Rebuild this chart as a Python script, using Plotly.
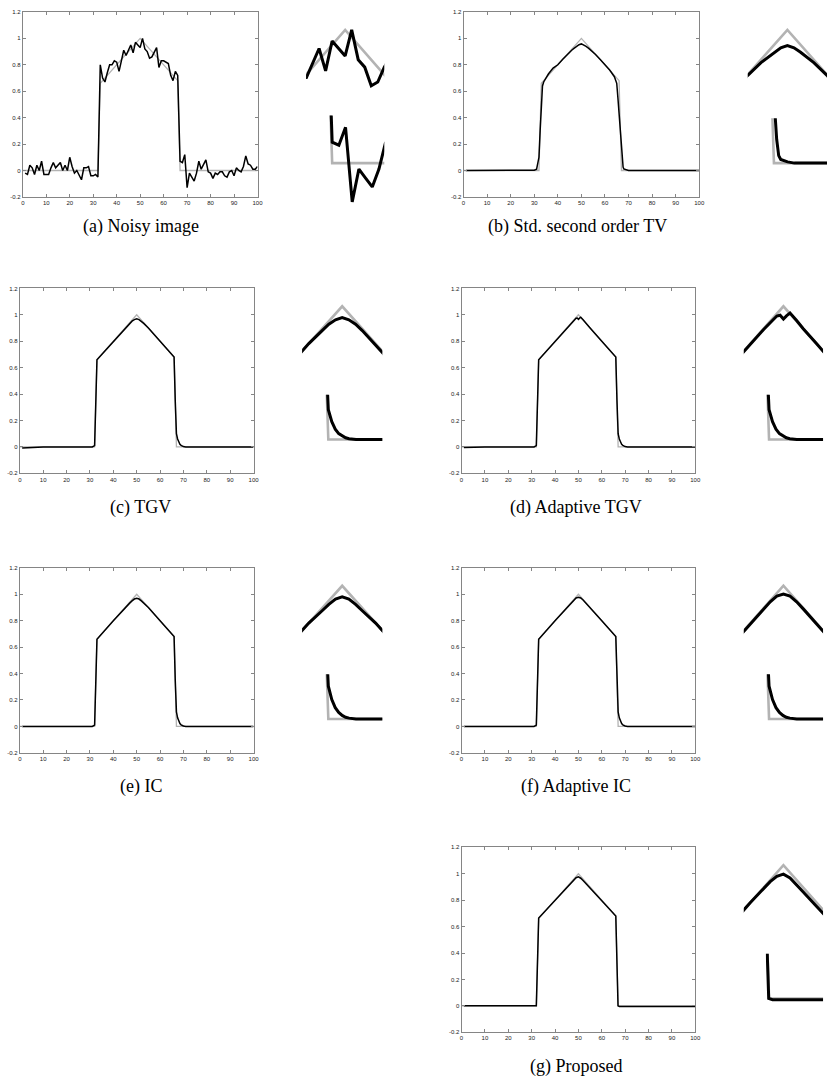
import plotly.graph_objects as go

W, H = 833, 1085

# ---------------- data ----------------
x_true = [0, 32, 33, 50, 66, 67, 100]
y_true = [0, 0, 0.66, 1.0, 0.68, 0, 0]

x_noisy = list(range(1, 101))
y_noisy = [-0.02, -0.03, 0.04, 0.02, -0.03, 0.04, 0.0, 0.07, -0.03, -0.03,
           -0.03, 0.02, 0.06, 0.02, 0.04, 0.06, 0.0, 0.04, 0.0, 0.10,
           0.03, -0.02, 0.0, -0.03, -0.07, 0.02, 0.02, 0.03, -0.04, -0.04,
           -0.03, -0.05, 0.80, 0.70, 0.67, 0.74, 0.80, 0.80, 0.83, 0.82,
           0.75, 0.83, 0.91, 0.87, 0.91, 0.95, 0.89, 0.97, 0.95, 0.93,
           1.00, 0.92, 0.90, 0.85, 0.86, 0.90, 0.93, 0.78, 0.83, 0.83,
           0.82, 0.81, 0.72, 0.68, 0.75, 0.72, 0.07, 0.06, 0.12, -0.13,
           -0.02, -0.05, -0.08, -0.02, 0.07, 0.01, 0.04, 0.08, -0.01, -0.02,
           -0.06, -0.02, -0.03, -0.01, -0.01, -0.04, -0.05, -0.01, 0.0, -0.04,
           0.02, 0.0, -0.01, 0.03, 0.11, 0.05, 0.04, 0.01, 0.01, 0.03]

x_tv2 = [1, 29, 30, 31, 32, 32.5, 33, 33.5, 34, 36, 38, 40, 42, 44, 46, 47, 48, 49, 50,
         51, 52, 53, 54, 56, 58, 60, 62, 64, 65, 65.5, 66, 66.5, 67, 67.4, 67.7, 68, 69, 70, 100]
y_tv2 = [0, 0, 0.002, 0.01, 0.1, 0.3, 0.55, 0.64, 0.67, 0.73, 0.775, 0.80, 0.84, 0.878, 0.912, 0.926, 0.94, 0.952, 0.958,
         0.952, 0.94, 0.926, 0.912, 0.878, 0.84, 0.80, 0.76, 0.71, 0.66, 0.55, 0.42, 0.33, 0.22, 0.08, 0.025, 0.012, 0.004, 0, 0]

x_tgv = [1, 5, 10, 31, 32, 33, 40, 45, 47, 48, 49, 50, 51, 52, 53, 55, 60, 66,
         66.5, 67, 67.5, 68, 68.5, 69, 69.5, 70, 71, 100]
y_tgv = [-0.008, -0.005, 0, 0, 0.01, 0.66, 0.80, 0.90, 0.935, 0.952, 0.964, 0.970, 0.964, 0.952, 0.935, 0.90, 0.80, 0.68,
         0.35, 0.10, 0.06, 0.035, 0.02, 0.012, 0.006, 0.003, 0, 0]

x_atgv = [1, 10, 31, 32, 33, 40, 45, 47, 48, 49, 49.5, 50, 50.5, 51, 52, 53, 55, 60, 66,
          66.5, 67, 67.5, 68, 68.5, 69, 69.5, 70, 71, 100]
y_atgv = [-0.005, 0, 0, 0.01, 0.66, 0.80, 0.90, 0.938, 0.956, 0.974, 0.976, 0.966, 0.975, 0.982, 0.962, 0.94, 0.90, 0.80, 0.68,
          0.35, 0.10, 0.06, 0.035, 0.02, 0.012, 0.006, 0.003, 0, 0]

x_ic = [1, 10, 31, 32, 33, 40, 45, 47, 48, 49, 50, 51, 52, 53, 55, 60, 66,
        66.5, 67, 67.5, 68, 68.5, 69, 69.5, 70, 71, 100]
y_ic = [0, 0, 0, 0.01, 0.66, 0.80, 0.90, 0.933, 0.950, 0.964, 0.970, 0.964, 0.950, 0.933, 0.90, 0.80, 0.68,
        0.35, 0.11, 0.065, 0.038, 0.022, 0.012, 0.006, 0.003, 0, 0]

x_aic = [1, 10, 31, 32, 33, 40, 45, 47, 48, 49, 50, 51, 52, 53, 55, 60, 66,
         66.5, 67, 67.5, 68, 68.5, 69, 69.5, 70, 71, 100]
y_aic = [0, 0, 0, 0.01, 0.66, 0.80, 0.90, 0.938, 0.957, 0.972, 0.978, 0.972, 0.957, 0.938, 0.90, 0.80, 0.68,
         0.35, 0.11, 0.065, 0.038, 0.022, 0.012, 0.006, 0.003, 0, 0]

x_prop = [1, 10, 31, 32, 33, 40, 45, 47, 48, 49, 50, 51, 52, 53, 55, 60, 66, 66.95, 67.5, 100]
y_prop = [0, 0, 0, 0, 0.665, 0.80, 0.90, 0.937, 0.956, 0.970, 0.976, 0.966, 0.948, 0.928, 0.89, 0.795, 0.68, 0.0, -0.004, -0.004]

captions = ["(a) Noisy image", "(b) Std. second order TV", "(c) TGV", "(d) Adaptive TGV",
            "(e) IC", "(f) Adaptive IC", "(g) Proposed"]

x_tickvals = [0, 10, 20, 30, 40, 50, 60, 70, 80, 90, 100]
x_ticktext = ["0", "10", "20", "30", "40", "50", "60", "70", "80", "90", "100"]
y_tickvals = [-0.2, 0, 0.2, 0.4, 0.6, 0.8, 1.0, 1.2]
y_ticktext = ["-0.2", "0", "0.2", "0.4", "0.6", "0.8", "1", "1.2"]

series = [(x_noisy, y_noisy), (x_tv2, y_tv2), (x_tgv, y_tgv), (x_atgv, y_atgv),
          (x_ic, y_ic), (x_aic, y_aic), (x_prop, y_prop)]

# ---------------- layout (pixel boxes) ----------------
panels = [
    dict(main=(21, 258), T=9, top=(307, 386), bot=(330, 386), cap=(140, 225)),
    dict(main=(466, 704), T=9, top=(753, 833), bot=(776, 833), cap=(581, 225)),
    dict(main=(18, 254), T=287, top=(303, 384), bot=(326, 384), cap=(140, 507)),
    dict(main=(464, 700), T=287, top=(749, 829), bot=(771, 829), cap=(580, 507)),
    dict(main=(18, 254), T=568, top=(303, 384), bot=(326, 384), cap=(140, 788)),
    dict(main=(464, 700), T=568, top=(749, 829), bot=(771, 829), cap=(580, 788)),
    dict(main=(464, 700), T=849, top=(749, 829), bot=(771, 829), cap=(580, 1069)),
]

GRAY = "#b3b3b3"
BLACK = "#000000"
AXC = "#858585"


def xd(a, b):
    return [a / W, b / W]


def yd(top, bottom):
    return [1 - bottom / H, 1 - top / H]


fig = go.Figure()
layout = dict(width=W, height=H, autosize=False, margin=dict(l=0, r=0, t=0, b=0),
              paper_bgcolor="white", plot_bgcolor="white", showlegend=False)
annotations = []

for i, p in enumerate(panels):
    xs, ys = series[i]
    T = p["T"]
    noisy = (i == 0)
    n0 = 3 * i + 1
    for k in range(3):
        n = n0 + k
        xa = "x" if n == 1 else f"x{n}"
        ya = "y" if n == 1 else f"y{n}"
        xkey = "xaxis" if n == 1 else f"xaxis{n}"
        ykey = "yaxis" if n == 1 else f"yaxis{n}"
        if k == 0:
            layout[xkey] = dict(domain=xd(*p["main"]), range=[0, 100], anchor=ya,
                                showline=True, mirror="ticks", linecolor=AXC, linewidth=1,
                                ticks="inside", ticklen=3, tickcolor=AXC, tickwidth=1,
                                tickvals=x_tickvals, ticktext=x_ticktext,
                                tickfont=dict(size=6, color="#222", family="Liberation Sans"),
                                showgrid=False, zeroline=False, fixedrange=True)
            layout[ykey] = dict(domain=yd(T, T + 186), range=[-0.2, 1.2], anchor=xa,
                                showline=True, mirror="ticks", linecolor=AXC, linewidth=1,
                                ticks="inside", ticklen=3, tickcolor=AXC, tickwidth=1,
                                tickvals=y_tickvals, ticktext=y_ticktext,
                                tickfont=dict(size=6, color="#222", family="Liberation Sans"),
                                showgrid=False, zeroline=False, fixedrange=True)
            lw_g, lw_b = 1.3, 1.5
        elif k == 1:
            if noisy:
                ydom, yr = yd(T + 10.5, T + 85.5), [0.82, 1.02]
            else:
                ydom, yr = yd(T + 10.5, T + 70.5), [0.86, 1.02]
            layout[xkey] = dict(domain=xd(*p["top"]), range=[44, 56], anchor=ya, visible=False)
            layout[ykey] = dict(domain=ydom, range=yr, anchor=xa, visible=False)
            lw_g, lw_b = 2.6, 3.0
        else:
            if noisy:
                ydom, yr = yd(T + 104, T + 194), [-0.14, 0.16]
            else:
                ydom, yr = yd(T + 107, T + 156.5), [-0.015, 0.15]
            layout[xkey] = dict(domain=xd(*p["bot"]), range=[66.5, 74.8], anchor=ya, visible=False)
            layout[ykey] = dict(domain=ydom, range=yr, anchor=xa, visible=False)
            lw_g, lw_b = 2.6, 3.0
        fig.add_trace(go.Scatter(x=x_true, y=y_true, mode="lines", xaxis=xa, yaxis=ya,
                                 line=dict(color=GRAY, width=lw_g), hoverinfo="skip"))
        fig.add_trace(go.Scatter(x=xs, y=ys, mode="lines", xaxis=xa, yaxis=ya,
                                 line=dict(color=BLACK, width=lw_b), hoverinfo="skip"))
    cx, cy = p["cap"]
    annotations.append(dict(text=captions[i], x=cx / W, y=1 - cy / H, xref="paper", yref="paper",
                            xanchor="center", yanchor="middle", showarrow=False,
                            font=dict(family="Liberation Serif", size=18, color="#000")))

layout["annotations"] = annotations
fig.update_layout(**layout)
fig.write_html("out.html", config={"displayModeBar": False},
               post_script="document.body.style.margin='0';document.body.style.padding='0';")
